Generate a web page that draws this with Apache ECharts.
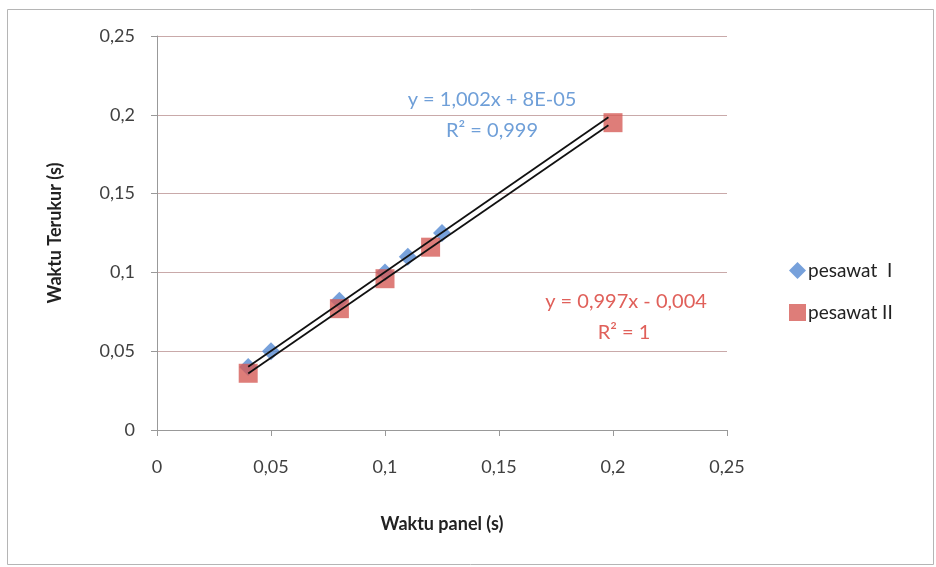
<!DOCTYPE html>
<html>
<head>
<meta charset="utf-8">
<script src="https://cdn.jsdelivr.net/npm/echarts@6/dist/echarts.min.js"></script>
<style>
  html, body { margin: 0; padding: 0; background: #fff; }
  #chart { width: 936px; height: 567px; }
</style>
</head>
<body>
<div id="chart"></div>
<script>
// pesawat I (blue diamonds)
const pesawat1X = [0.04, 0.05, 0.08, 0.1, 0.11, 0.125];
const pesawat1Y = [0.04, 0.05, 0.082, 0.1, 0.11, 0.125];
// pesawat II (red squares)
const pesawat2X = [0.04, 0.08, 0.1, 0.12, 0.2];
const pesawat2Y = [0.036, 0.077, 0.096, 0.116, 0.195];
// trendline coefficients as printed on the chart, and the x span they cover
const trend1 = { slope: 1.002, intercept: 0.00008 };
const trend2 = { slope: 0.997, intercept: -0.004 };
const trendRange = [0.04, 0.198];
const tickLabels = ['0', '0,05', '0,1', '0,15', '0,2', '0,25'];

const pairs = (xs, ys) => xs.map((x, i) => [x, ys[i]]);
const trendLine = t => trendRange.map(x => [x, t.slope * x + t.intercept]);
const fmt = v => tickLabels[Math.round(v / 0.05)];

const font = 'Lato, "Open Sans", sans-serif';
const chart = echarts.init(document.getElementById('chart'));
chart.setOption({
  animation: false,
  textStyle: { fontFamily: font },
  grid: { left: 157, right: 209, top: 36, bottom: 137 },
  xAxis: {
    type: 'value', min: 0, max: 0.25, interval: 0.05,
    name: 'Waktu panel (s)', nameLocation: 'middle', nameGap: 85,
    nameTextStyle: { fontSize: 18, fontWeight: 'bold', color: '#222', fontFamily: font },
    axisLine: { lineStyle: { color: '#999' } },
    axisTick: { show: true, length: 6, lineStyle: { color: '#999' } },
    axisLabel: { formatter: fmt, fontSize: 18, color: '#404040', margin: 28 },
    splitLine: { show: false }
  },
  yAxis: {
    type: 'value', min: 0, max: 0.25, interval: 0.05,
    name: 'Waktu Terukur (s)', nameLocation: 'middle', nameGap: 93,
    nameTextStyle: { fontSize: 18, fontWeight: 'bold', color: '#222', fontFamily: font },
    axisLine: { show: true, lineStyle: { color: '#999' } },
    axisTick: { show: true, length: 6, lineStyle: { color: '#999' } },
    axisLabel: { formatter: fmt, fontSize: 18, color: '#404040', margin: 22 },
    splitLine: { lineStyle: { color: '#c9a9a9', width: 1 } }
  },
  legend: {
    orient: 'vertical', left: 784, top: 256, itemGap: 24,
    itemWidth: 17, itemHeight: 17, itemGap: 23,
    textStyle: { fontSize: 19, color: '#222', fontFamily: font, padding: [0, 0, 0, -3] },
    data: [
      { name: 'pesawat  I', icon: 'diamond' },
      { name: 'pesawat II', icon: 'rect' }
    ]
  },
  series: [
    {
      name: 'pesawat  I', type: 'scatter', symbol: 'diamond', symbolSize: 18,
      itemStyle: { color: '#5589d2' }, z: 2,
      data: pairs(pesawat1X, pesawat1Y)
    },
    {
      name: 'pesawat II', type: 'scatter', symbol: 'rect', symbolSize: 19,
      itemStyle: { color: '#d65d58' }, z: 3,
      data: pairs(pesawat2X, pesawat2Y)
    },
    {
      name: 'trend I', type: 'line', showSymbol: false, symbol: 'none', z: 4,
      lineStyle: { color: '#111', width: 1.8 },
      data: trendLine(trend1)
    },
    {
      name: 'trend II', type: 'line', showSymbol: false, symbol: 'none', z: 4,
      lineStyle: { color: '#111', width: 1.8 },
      data: trendLine(trend2)
    }
  ],
  graphic: [
    { type: 'rect', left: 5, top: 7, z: -1,
      shape: { width: 926, height: 555 },
      style: { fill: 'none', stroke: '#b5b5b5', lineWidth: 1 } },
    { type: 'text', x: 492, y: 100, z: 10,
      style: { text: 'y = 1,002x + 8E-05', fill: '#6f9fd8', fontSize: 20, fontFamily: font, align: 'center', verticalAlign: 'middle' } },
    { type: 'text', x: 492, y: 131, z: 10,
      style: { text: 'R² = 0,999', fill: '#6f9fd8', fontSize: 20, fontFamily: font, align: 'center', verticalAlign: 'middle' } },
    { type: 'text', x: 626, y: 302, z: 10,
      style: { text: 'y = 0,997x - 0,004', fill: '#e0605a', fontSize: 20, fontFamily: font, align: 'center', verticalAlign: 'middle' } },
    { type: 'text', x: 624, y: 333, z: 10,
      style: { text: 'R² = 1', fill: '#e0605a', fontSize: 20, fontFamily: font, align: 'center', verticalAlign: 'middle' } }
  ]
});
</script>
</body>
</html>
